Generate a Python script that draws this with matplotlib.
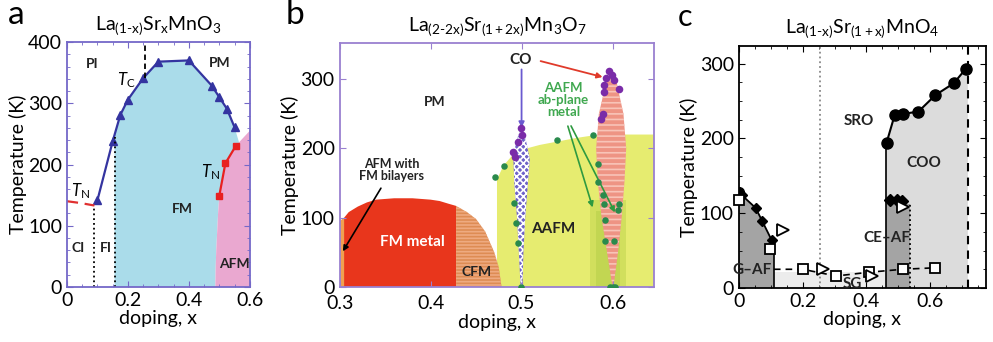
import matplotlib
matplotlib.use('Agg')
import matplotlib.pyplot as plt
from matplotlib.patches import Polygon

plt.rcParams['font.family'] = ['Lato', 'DejaVu Sans']
plt.rcParams['mathtext.fontset'] = 'custom'
plt.rcParams['mathtext.rm'] = 'Lato'
plt.rcParams['mathtext.it'] = 'Lato:italic'
plt.rcParams['hatch.linewidth'] = 1.2

# ---------------- Panel a data ----------------
a_tc_x = [0.10, 0.15, 0.175, 0.20, 0.25, 0.30, 0.40, 0.475, 0.50, 0.525, 0.55]
a_tc_T = [142, 238, 281, 306, 341, 368, 370, 329, 310, 291, 261]
a_tn_x = [0.50, 0.52, 0.555]
a_tn_T = [149, 202, 231]
a_tnlow_x = [0.0, 0.045, 0.09]
a_tnlow_T = [140, 137, 133]
a_pink_x = [0.487, 0.488, 0.490, 0.493, 0.496, 0.50, 0.52, 0.555, 0.60, 0.60]
a_pink_T = [0, 30, 60, 90, 120, 149, 202, 231, 255, 0]
a_blue_x = [0.156, 0.156, 0.175, 0.20, 0.25, 0.30, 0.40, 0.475, 0.50, 0.525, 0.55, 0.565,
            0.555, 0.52, 0.50, 0.496, 0.493, 0.490, 0.488, 0.487]
a_blue_T = [0, 248, 281, 306, 341, 368, 370, 329, 310, 291, 261, 236,
            231, 202, 149, 120, 90, 60, 30, 0]

# ---------------- Panel b data ----------------
b_fm_x = [0.300, 0.300, 0.305, 0.31, 0.32, 0.33, 0.34, 0.36, 0.38, 0.40, 0.41, 0.42, 0.428, 0.428]
b_fm_T = [0, 92, 100, 108, 116, 122, 126, 128, 128, 126, 124, 120, 117, 0]
b_cfm_x = [0.428, 0.428, 0.44, 0.45, 0.46, 0.47, 0.475, 0.478]
b_cfm_T = [0, 117, 108, 98, 80, 50, 28, 0]
b_bil_x = [0.300, 0.300, 0.305, 0.305]
b_bil_T = [0, 95, 100, 0]
b_yel_x = [0.473, 0.473, 0.48, 0.49, 0.50, 0.52, 0.54, 0.56, 0.58, 0.60, 0.65, 0.65]
b_yel_T = [0, 155, 175, 190, 198, 205, 210, 215, 219, 220, 220, 0]
b_co5_x = [0.499, 0.497, 0.495, 0.492, 0.491, 0.494, 0.499, 0.501, 0.505, 0.509, 0.507, 0.504, 0.502, 0.501]
b_co5_T = [0, 50, 100, 150, 185, 210, 228, 228, 210, 185, 150, 100, 50, 0]
b_co6_x = [0.600, 0.594, 0.588, 0.584, 0.582, 0.585, 0.592, 0.598, 0.603, 0.607, 0.612, 0.615, 0.613, 0.610, 0.606, 0.601]
b_co6_T = [0, 50, 100, 150, 200, 250, 290, 310, 305, 280, 250, 200, 150, 100, 50, 0]
b_green_x = [0.471, 0.481, 0.539, 0.578, 0.492, 0.494, 0.496, 0.499,
             0.584, 0.584, 0.589, 0.591, 0.607, 0.606, 0.592, 0.602, 0.592, 0.597, 0.600, 0.603]
b_green_T = [159, 174, 212, 220, 121, 92, 63, 0,
             178, 152, 132, 120, 120, 111, 96, 67, 67, 0, 0, 0]
b_purple_x = [0.499, 0.500, 0.496, 0.493, 0.491,
              0.596, 0.599, 0.602, 0.593, 0.607, 0.591, 0.591, 0.589, 0.587]
b_purple_T = [229, 219, 209, 188, 195,
              312, 306, 299, 301, 286, 291, 282, 250, 243]

# ---------------- Panel c data ----------------
c_gaf_x = [0.0, 0.010, 0.053, 0.074, 0.103]
c_gaf_T = [128, 124, 107, 89, 64]
c_gafreg_x = [0.0, 0.0, 0.010, 0.053, 0.074, 0.103, 0.11, 0.11]
c_gafreg_T = [0, 128, 124, 107, 89, 64, 58, 0]
c_coo_x = [0.463, 0.489, 0.516, 0.563, 0.616, 0.674, 0.711]
c_coo_T = [194, 232, 233, 236, 258, 274, 293]
c_cereg_x = [0.461, 0.461, 0.537, 0.537]
c_cereg_T = [0, 112, 112, 0]
c_ce_x = [0.474, 0.495, 0.510]
c_ce_T = [118, 118, 116]
c_sq_x = [0.0, 0.098, 0.20, 0.305, 0.407, 0.514, 0.616]
c_sq_T = [118, 52, 25, 16, 21, 25, 27]
c_tri_x = [0.137, 0.263, 0.416, 0.514]
c_tri_T = [78, 25, 16, 109]
c_sgline_x = [0.11, 0.20, 0.305, 0.407, 0.514, 0.616]
c_sgline_T = [25, 25, 16, 21, 25, 27]

fig = plt.figure(figsize=(9.93, 3.42), dpi=100)
axa = fig.add_axes([0.0675, 0.161, 0.184, 0.716])
axb = fig.add_axes([0.342, 0.161, 0.317, 0.713])
axc = fig.add_axes([0.744, 0.158, 0.249, 0.708])

def style(ax, col):
    for s in ax.spines.values():
        s.set_color(col)
        s.set_linewidth(1.3)
    ax.tick_params(which='both', direction='in', top=True, right=True, labelsize=14, color=col)
    ax.tick_params(which='major', length=4)
    ax.tick_params(which='minor', length=2)
    ax.set_xlabel('doping, x', fontsize=14, labelpad=1)
    ax.set_ylabel('Temperature (K)', fontsize=14, labelpad=1)

# ---- panel a ----
ax = axa
ax.set_xlim(0, 0.6); ax.set_ylim(0, 400)
ax.add_patch(Polygon(list(zip(a_blue_x, a_blue_T)), closed=True, fc='#aadcea', ec='none'))
ax.add_patch(Polygon(list(zip(a_pink_x, a_pink_T)), closed=True, fc='#eaa8d0', ec='none'))
ax.plot(a_tc_x, a_tc_T, '-^', color='#3434a0', ms=6, lw=1.6)
ax.plot(a_tn_x, a_tn_T, '-s', color='#e82020', ms=5, lw=1.6)
ax.plot(a_tnlow_x, a_tnlow_T, '--', color='#e03030', lw=1.6, dashes=(5, 3))
ax.plot([0.09, 0.09], [0, 133], ':', color='k', lw=1.3)
ax.plot([0.156, 0.156], [0, 245], ':', color='k', lw=1.3)
ax.plot([0.255, 0.255], [341, 400], '--', color='k', lw=1.3, dashes=(3, 2))
style(ax, '#7468c8')
ax.set_xticks([0, 0.2, 0.4, 0.6]); ax.set_xticklabels(['0', '0.2', '0.4', '0.6'])
ax.set_yticks([0, 100, 200, 300, 400])
ax.set_xticks([0.05, 0.1, 0.15, 0.25, 0.3, 0.35, 0.45, 0.5, 0.55], minor=True)
ax.set_yticks(list(range(20, 400, 20)), minor=True)
kw = dict(fontsize=10, fontweight='bold', ha='center', va='center', color='#222222')
ax.text(0.082, 364, 'PI', **kw)
ax.text(0.50, 365, 'PM', **kw)
ax.text(0.38, 127, 'FM', **kw)
ax.text(0.035, 64, 'CI', **kw)
ax.text(0.128, 64, 'FI', **kw)
ax.text(0.55, 37, 'AFM', **kw)
ax.text(0.194, 338, r'$T_{\mathrm{C}}$', fontsize=12, ha='center', va='center')
ax.text(0.044, 156, r'$T_{\mathrm{N}}$', fontsize=12, ha='center', va='center')
ax.text(0.47, 187, r'$T_{\mathrm{N}}$', fontsize=12, ha='center', va='center')
ax.set_title(r'La$_{\mathrm{(1\text{-}x)}}$Sr$_{\mathrm{x}}$MnO$_3$', fontsize=14, pad=9)

# ---- panel b ----
ax = axb
ax.set_xlim(0.3, 0.646); ax.set_ylim(0, 352)
ax.add_patch(Polygon(list(zip(b_yel_x, b_yel_T)), closed=True, fc='#e6ec70', ec='none'))
ax.fill_between([0.575, 0.615], 0, 125, color='#b8d048', alpha=0.45, lw=0)
ax.fill_between([0.582, 0.608], 0, 110, color='#a8c840', alpha=0.35, lw=0)
ax.add_patch(Polygon(list(zip(b_fm_x, b_fm_T)), closed=True, fc='#e8361c', ec='none'))
ax.add_patch(Polygon(list(zip(b_cfm_x, b_cfm_T)), closed=True, fc='#de8c54', ec='#eeaa80', lw=0, hatch='-----'))
ax.add_patch(Polygon(list(zip(b_bil_x, b_bil_T)), closed=True, fc='#f0a050', ec='none'))
ax.add_patch(Polygon(list(zip(b_co5_x, b_co5_T)), closed=True, fc='#6e62c8', ec='white', lw=0, hatch='xxxxx'))
ax.add_patch(Polygon(list(zip(b_co6_x, b_co6_T)), closed=True, fc='#ee9484', ec='#f8c4b8', lw=0, hatch='---'))
ax.scatter(b_green_x, b_green_T, s=22, color='#2a8a4c', zorder=5, lw=0)
ax.scatter(b_purple_x, b_purple_T, s=30, color='#7a2ca8', zorder=5, lw=0)
ax.annotate('', xy=(0.5, 226), xytext=(0.5, 318),
            arrowprops=dict(arrowstyle='-|>', color='#6a5ad0', lw=1.3, mutation_scale=8))
ax.annotate('', xy=(0.592, 302), xytext=(0.518, 327),
            arrowprops=dict(arrowstyle='-|>', color='#e03a2a', lw=1.3, mutation_scale=8))
ax.annotate('', xy=(0.579, 111), xytext=(0.550, 236),
            arrowprops=dict(arrowstyle='-|>', color='#2e9a40', lw=1.2, mutation_scale=8))
ax.annotate('', xy=(0.604, 104), xytext=(0.553, 236),
            arrowprops=dict(arrowstyle='-|>', color='#2e9a40', lw=1.2, mutation_scale=8))
ax.annotate('', xy=(0.302, 48), xytext=(0.347, 146),
            arrowprops=dict(arrowstyle='-|>', color='k', lw=1.2, mutation_scale=8))
ax.text(0.405, 267, 'PM', **kw)
ax.text(0.499, 327, 'CO', fontsize=11, fontweight='bold', ha='center', va='center', color='#222222')
ax.text(0.546, 270, 'AAFM\nab-plane\nmetal', fontsize=9.5, fontweight='bold', ha='center', va='center',
        color='#40a850', linespacing=1.0)
ax.text(0.535, 84, 'AAFM', fontsize=11, fontweight='bold', ha='center', va='center', color='#222222')
ax.text(0.38, 65, 'FM metal', fontsize=11, fontweight='bold', ha='center', va='center', color='white')
ax.text(0.451, 22, 'CFM', fontsize=10, fontweight='bold', ha='center', va='center', color='#222222')
ax.text(0.357, 169, 'AFM with\nFM bilayers', fontsize=9, fontweight='bold', ha='center', va='center',
        color='#222222', linespacing=1.0)
style(ax, '#9a80d0')
ax.tick_params(axis='x', pad=6)
ax.set_xticks([0.3, 0.4, 0.5, 0.6]); ax.set_xticklabels(['0.3', '0.4', '0.5', '0.6'])
ax.set_yticks([0, 100, 200, 300])
ax.set_title(r'La$_{\mathrm{(2\text{-}2x)}}$Sr$_{\mathrm{(1+2x)}}$Mn$_3$O$_7$', fontsize=14, pad=9)

# ---- panel c ----
ax = axc
ax.set_xlim(0, 0.775); ax.set_ylim(0, 324)
ax.add_patch(Polygon([(0.461, 0), (0.461, 194)] + list(zip(c_coo_x, c_coo_T)) + [(0.718, 293), (0.718, 0)],
                     closed=True, fc='#dcdcdc', ec='none'))
ax.fill_between([0.11, 0.461], 0, 22, color='#ececec', lw=0)
ax.add_patch(Polygon(list(zip(c_gafreg_x, c_gafreg_T)), closed=True, fc='#a4a4a4', ec='none'))
ax.add_patch(Polygon(list(zip(c_cereg_x, c_cereg_T)), closed=True, fc='#a4a4a4', ec='none'))
ax.plot([0.11, 0.11], [0, 62], '-', color='k', lw=1.2)
ax.plot([0.461, 0.461], [0, 194], '-', color='k', lw=1.2)
ax.plot([0.718, 0.718], [0, 324], '--', color='k', lw=1.5, dashes=(4, 3))
ax.plot([0.256, 0.256], [0, 324], ':', color='#888888', lw=1.3)
ax.plot([0.537, 0.537], [0, 112], ':', color='k', lw=1.3)
ax.plot(c_sgline_x, c_sgline_T, '--', color='k', lw=1.2, dashes=(4, 3), zorder=3)
ax.plot(c_gaf_x, c_gaf_T, '-', color='k', lw=1.3)
ax.plot(c_gaf_x[1:], c_gaf_T[1:], 'D', color='k', ms=5.5)
ax.plot([c_gaf_x[0]], [c_gaf_T[0]], 'o', color='k', ms=7)
ax.plot(c_coo_x, c_coo_T, '-o', color='k', ms=8, lw=1.5)
ax.plot(c_ce_x, c_ce_T, 'D', color='k', ms=6)
ax.plot(c_sq_x, c_sq_T, 's', mfc='white', mec='k', ms=7, mew=1.3, ls='none', zorder=4, clip_on=False)
ax.plot(c_tri_x, c_tri_T, '>', mfc='white', mec='k', ms=9, mew=1.3, ls='none', zorder=4)
kw2 = dict(fontsize=11, fontweight='bold', ha='center', va='center', color='#222222')
ax.text(0.376, 224, 'SRO', **kw2)
ax.text(0.579, 167, 'COO', **kw2)
ax.text(0.463, 67, 'CE\u2013AF', **kw2)
ax.text(0.04, 24, 'G\u2013AF', **kw2)
ax.text(0.356, 5, 'SG', **kw2)
style(ax, 'k')
ax.set_xticks([0, 0.2, 0.4, 0.6]); ax.set_xticklabels(['0', '0.2', '0.4', '0.6'])
ax.set_yticks([0, 100, 200, 300])
ax.set_xticks([0.05, 0.1, 0.15, 0.25, 0.3, 0.35, 0.45, 0.5, 0.55, 0.65, 0.7, 0.75], minor=True)
ax.set_yticks(list(range(25, 324, 25)), minor=True)
ax.set_title(r'La$_{\mathrm{(1\text{-}x)}}$Sr$_{\mathrm{(1+x)}}$MnO$_4$', fontsize=14, pad=9)

fig.text(0.008, 0.955, 'a', fontsize=24, ha='left', va='center')
fig.text(0.288, 0.955, 'b', fontsize=24, ha='left', va='center')
fig.text(0.683, 0.950, 'c', fontsize=22, ha='left', va='center')

fig.savefig('out.png', dpi=100)
